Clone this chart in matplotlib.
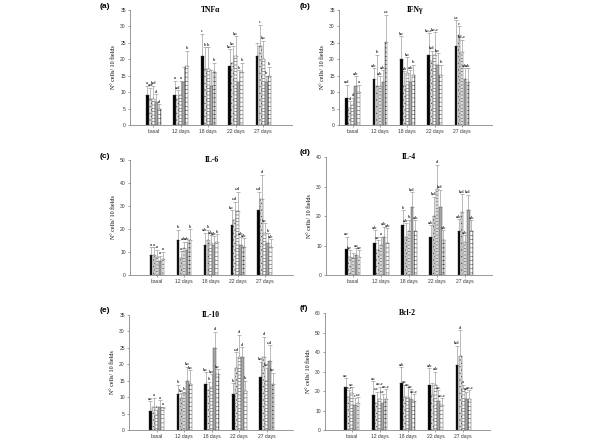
import numpy as np
import matplotlib
matplotlib.use('Agg')
import matplotlib.pyplot as plt

plt.rcParams['hatch.linewidth'] = 0.35
plt.rcParams['font.family'] = ['Liberation Sans', 'DejaVu Sans']

groups = ['basal', '12 days', '18 days', '22 days', '27 days']

# TNFa
tnf_mean = [[9, 8, 8, 7, 5], [9, 8, 9, 13, 18], [21, 17, 17, 12, 16],
            [18, 19, 21, 13, 16], [21, 24, 20, 13, 15]]
tnf_upper = [[12, 11.4, 12, 9.3, 6.3], [13.5, 10.6, 13.5, 17.5, 22.5], [27.8, 23.7, 23.7, 16.7, 19],
             [23, 24, 27, 16.7, 19], [25, 30.5, 25.7, 15, 17.7]]
tnf_let = [['a', 'a,d', 'b,d', 'd', 'd'], ['a', 'a,d', 'a', '', 'b'], ['c', 'b', 'b', '', 'b'],
           ['b,c', 'b,c', 'b,c', 'b', 'b'], ['', 'c', 'b,c', 'b', 'b']]

# IFNg
ifn_mean = [[8.2, 5.2, 6.2, 12, 10], [14.1, 12, 12, 13, 25.2], [20.2, 12, 15.8, 13, 15.3],
            [21.2, 19.4, 21.2, 18.4, 15.3], [24.1, 27.3, 22.2, 14.1, 13]]
ifn_upper = [[12.3, 7.2, 8.2, 14.8, 12.3], [17.3, 21.4, 14.8, 16.8, 33.6], [27, 16.3, 20.6, 16.8, 18.4],
             [28, 22.6, 28.3, 21.9, 18.4], [32, 30, 26, 17.3, 17.3]]
ifn_let = [['a,d', 'd', 'd', 'a,b', 'a'], ['a,b', 'b', 'a,b', 'a,b', 'c,e'], ['b,e', 'a,b', 'b,e', 'a,b', 'b'],
           ['b,c,e', 'b,d', 'b,c,e', 'b,e', 'b'], ['c,e', 'e', 'b,c,e', 'a,b', 'a,b']]

# IL-6
il6_mean = [[8.7, 8.7, 7.7, 6.2, 7], [15.2, 7.2, 11.6, 10.9, 15.2], [13, 15.2, 13.8, 13, 14.2],
            [21.7, 23.9, 27.8, 13, 12], [28.3, 33, 18.1, 13.8, 12]]
il6_upper = [[12, 12, 10.9, 8.3, 10], [19.6, 10.4, 14.5, 14.5, 19.9], [18.4, 19.6, 17.4, 17, 17.7],
             [28.3, 31.9, 36.2, 16.7, 16], [36.2, 43.5, 22.5, 18.1, 15.5]]
il6_let = [['a', 'a', 'a', 'a', 'a'], ['b', 'a', 'a,b', 'a,b', 'b'], ['a,b', 'b', 'a,b', 'a,b', 'b'],
           ['b,c', 'c,d', 'c,d', 'a,b', 'a,b'], ['c,d', 'd', 'b,c', 'b', 'a,b']]

# IL-4
il4_mean = [[8.9, 6.2, 5.7, 6.8, 6.2], [11, 8.5, 10.2, 13, 11], [17, 13, 15, 23, 15],
            [13, 20, 29.1, 23, 11.9], [15, 21.2, 11.3, 22.1, 15]]
il4_upper = [[13, 8.5, 7.4, 9, 8.5], [15.3, 11.9, 13, 16.4, 15.9], [22, 17.6, 18.7, 28, 18.7],
             [17, 26.6, 37.4, 28.9, 15.3], [18.9, 27.5, 13.6, 27.2, 18.7]]
il4_let = [['a,e', 'b,e', '', 'a,e', 'a,e'], ['a,b', 'a,e', 'a', 'a,b', 'a,b'], ['b', 'a,b', 'b', 'b,d', 'a,b'],
           ['a,b', 'b,d', 'd', 'b,d', 'a,b'], ['a,b', 'b,d', 'a,b', 'b,d', 'a,b']]

# IL-10
il10_mean = [[5.9, 6.9, 4.6, 7.1, 6.6], [11, 9.6, 11.2, 15, 14], [14, 12.2, 13.2, 25, 17],
             [11, 19, 22.1, 22.1, 12], [16, 22.1, 15, 21.1, 14]]
il10_upper = [[8.8, 9.8, 6.1, 9.1, 7.1], [13.7, 11.2, 11.7, 19.3, 18.3], [17.7, 14.7, 17, 29.9, 18.6],
              [14.2, 23.8, 28.9, 25.2, 15], [20.8, 28.4, 19, 25.9, 17.5]]
il10_let = [['a,c', 'a', 'c', 'a', 'a'], ['b', 'b,c', 'b', 'b,c', 'b,c'], ['b,c', 'b', 'b,c', 'd', 'b,c'],
            ['b', 'c,d', 'd', 'd', 'b'], ['b,c', 'd', 'b,c', 'c,d', 'b,c']]

# Bcl-2
bcl_mean = [[22, 17.1, 18.9, 12.9, 14.1], [18, 13.7, 16, 14.1, 16], [24, 16.8, 16.8, 16, 15.1],
            [23.2, 18, 23.2, 14.9, 12.9], [33.1, 38.1, 20.9, 16, 16]]
bcl_upper = [[26.6, 20.6, 22, 16.3, 16.8], [25.2, 19.7, 22.3, 18.4, 20.9], [32.2, 23.2, 22, 21, 18.5],
             [31.7, 24, 30, 20.6, 16.3], [43.2, 51.1, 23.2, 19.7, 20.6]]
bcl_let = [['a,c', 'a,c,e', 'a,c', 'c', 'c,e'], ['a,c', 'c,e', 'a,c,e', 'c,e', 'a,c,e'],
           ['a,b', 'a,c', 'a,c', 'a,c', 'a,c,e'], ['a,b', '', 'a,b', 'a,c', 'a,c,e'],
           ['b,d', 'd', 'a', 'a,c', 'a,c,e']]

panels = [
    ('(a)', 'TNF\u03b1', tnf_mean, tnf_upper, tnf_let, 35, 5, (130, 292, 10, 125), (-0.85, 5.05)),
    ('(b)', 'IFN\u03b3', ifn_mean, ifn_upper, ifn_let, 35, 5, (339, 492, 10, 125), (-0.5, 5.1)),
    ('(c)', 'IL-6', il6_mean, il6_upper, il6_let, 50, 10, (130, 293, 160, 275), (-1.0, 5.05)),
    ('(d)', 'IL-4', il4_mean, il4_upper, il4_let, 40, 10, (326, 492, 157, 275), (-0.96, 4.96)),
    ('(e)', 'IL-10', il10_mean, il10_upper, il10_let, 35, 5, (129, 293, 315, 430), (-1.0, 4.95)),
    ('(f)', 'Bcl-2', bcl_mean, bcl_upper, bcl_let, 60, 10, (325, 490, 313, 430), (-0.96, 4.96)),
]

colors = ['black', '#e2e2e2', 'white', '#a6a6a6', 'white']
hatches = ['', '.....', '-----', '', '++++']

W, H = 600, 444
fig = plt.figure(figsize=(6, 4.44), dpi=100)

bw = 0.11
for lab, title, mean, upper, lets, ymax, step, box, xl in panels:
    x0, x1, y0, y1 = box
    ax = fig.add_axes([x0 / W, 1 - y1 / H, (x1 - x0) / W, (y1 - y0) / H])
    mean = np.array(mean)
    upper = np.array(upper)
    x = np.arange(len(groups))
    for j in range(5):
        xs = x + (j - 2) * bw
        ax.bar(xs, mean[:, j], width=bw * 0.9, color=colors[j], hatch=hatches[j],
               edgecolor='#444444', linewidth=0.3, zorder=2)
        ax.errorbar(xs, mean[:, j], yerr=[np.zeros(5), upper[:, j] - mean[:, j]],
                    fmt='none', ecolor='#888888', elinewidth=0.4, capsize=1.2,
                    capthick=0.4, zorder=1)
        for i in range(5):
            if lets[i][j]:
                ax.text(xs[i], upper[i, j] + ymax * 0.005, lets[i][j], ha='center', va='bottom',
                        fontsize=3.0, family=['Liberation Serif', 'DejaVu Serif'],
                        fontweight='bold', color='#333333')
    ax.set_xlim(*xl)
    ax.set_ylim(0, ymax)
    ax.set_yticks(np.arange(0, ymax + 1, step))
    ax.set_xticks(x)
    ax.set_xticklabels(groups)
    ax.tick_params(axis='both', labelsize=3.6, length=1.5, width=0.4, pad=1.5,
                   colors='#555555', labelcolor='#333333')
    for s in ['top', 'right']:
        ax.spines[s].set_visible(False)
    for s in ['left', 'bottom']:
        ax.spines[s].set_color('#888888')
        ax.spines[s].set_linewidth(0.6)
    ax.set_ylabel('N\u00b0 cells/ 10 fields', fontsize=4.3,
                  family=['Liberation Serif', 'DejaVu Serif'], labelpad=3)
    ax.text(0.5, 1.0, title, transform=ax.transAxes, ha='center', va='center',
            fontsize=5.5, fontweight='bold', family=['Liberation Serif', 'DejaVu Serif'])
    lx = 100 if x0 < 300 else 300
    fig.text(lx / W, 1 - (y0 - 4) / H, lab, fontsize=6, fontweight='bold',
             ha='left', va='center')

fig.savefig('out.png', dpi=100)
